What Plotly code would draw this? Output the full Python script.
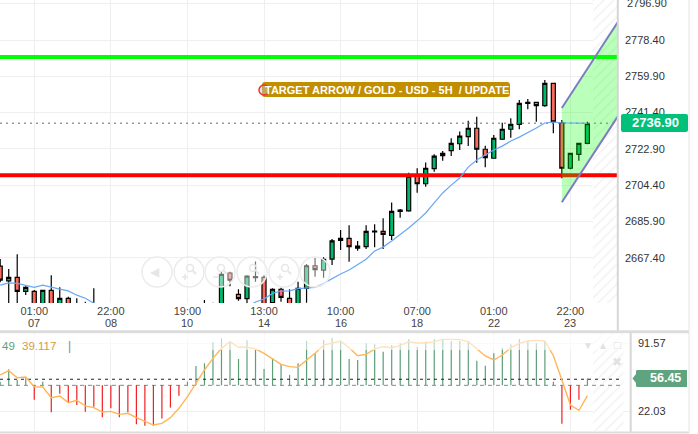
import plotly.graph_objects as go

W, H = 698, 434
FONT = "Liberation Sans"

idx = list(range(70))
opens = [2663.1,2655.6,2657.4,2650.2,2650.2,2641.0,2650.7,2640.0,2646.7,2638.0,
         2641.0,2642.0,2637.0,2633.0,2630.0,2627.0,2629.0,2626.0,2622.0,2626.0,
         2629.0,2627.0,2633.0,2636.0,2638.0,2642.0,2640.0,2659.6,2648.7,2646.5,
         2657.2,2657.4,2644.5,2651.3,2646.7,2642.0,2651.8,2663.3,2661.1,2666.7,
         2676.2,2677.3,2672.3,2673.0,2680.6,2680.8,2678.8,2691.0,2691.3,2709.0,
         2705.1,2712.8,2719.4,2722.0,2725.5,2729.1,2733.4,2722.7,2718.1,2727.8,
         2732.9,2735.4,2746.1,2746.6,2744.9,2756.3,2736.2,2713.0,2720.1,2725.7]
highs = [2666.7,2661.6,2669.1,2652.9,2650.9,2651.0,2658.4,2652.3,2647.5,2646.7,
         2644.9,2651.8,2641.0,2637.0,2634.0,2631.0,2633.0,2630.0,2628.0,2632.0,
         2634.0,2635.0,2639.0,2642.0,2645.8,2644.4,2660.2,2660.2,2651.3,2658.5,
         2665.4,2658.5,2651.8,2652.1,2651.3,2655.1,2664.2,2667.4,2667.6,2676.9,
         2681.5,2684.0,2675.9,2684.0,2684.4,2687.5,2695.6,2692.2,2710.7,2713.0,
         2716.0,2720.1,2721.8,2728.3,2731.8,2737.2,2739.3,2724.5,2730.0,2736.2,
         2738.5,2747.8,2748.3,2746.9,2758.0,2756.6,2737.6,2720.9,2726.0,2736.7]
lows = [2654.9,2643.2,2640.0,2648.4,2636.0,2638.0,2636.0,2637.0,2636.0,2636.0,
        2636.0,2634.0,2630.0,2628.0,2625.0,2623.0,2624.0,2620.0,2619.0,2622.0,
        2625.0,2624.0,2630.0,2633.0,2635.0,2636.0,2638.0,2652.9,2645.5,2641.0,
        2655.1,2640.0,2643.8,2644.9,2640.0,2640.0,2644.4,2657.7,2657.2,2663.7,
        2671.3,2665.3,2671.0,2671.8,2672.7,2671.8,2676.4,2687.8,2690.8,2700.5,
        2703.6,2711.2,2716.8,2719.2,2722.3,2724.3,2715.8,2713.5,2718.1,2727.4,
        2728.6,2732.9,2743.1,2736.7,2744.4,2730.8,2707.9,2712.5,2716.8,2725.2]
closes = [2656.0,2657.4,2650.2,2652.3,2640.0,2650.7,2640.0,2646.7,2639.0,2642.0,
          2637.0,2636.0,2633.0,2630.0,2627.0,2629.0,2626.0,2622.0,2626.0,2629.0,
          2627.0,2633.0,2636.0,2640.0,2642.0,2640.0,2658.9,2655.9,2646.5,2658.0,
          2657.7,2643.0,2651.3,2647.2,2642.0,2651.8,2663.3,2661.3,2666.6,2676.0,
          2677.3,2673.0,2673.3,2680.8,2681.0,2679.3,2691.0,2691.7,2709.0,2705.1,
          2713.0,2719.2,2720.6,2725.7,2729.4,2733.4,2722.7,2718.4,2728.3,2732.9,
          2735.4,2746.1,2746.6,2744.9,2756.3,2736.7,2713.0,2720.6,2725.7,2735.7]
ma_line = [2653.4,2654.6,2654.3,2653.2,2652.3,2653.4,2652.3,2651.4,2650.5,2648.3,
           2646.7,2644.3,2641.7,2638.0,2635.0,2632.0,2630.0,2628.0,2626.0,2625.0,
           2625.0,2626.0,2627.0,2629.0,2631.0,2633.0,2635.0,2637.0,2639.0,2642.2,
           2644.8,2646.3,2649.2,2650.4,2650.5,2651.6,2651.8,2652.3,2654.3,2656.9,
           2659.1,2661.1,2663.7,2666.6,2670.8,2672.8,2675.9,2679.0,2682.5,2686.2,
           2690.2,2695.3,2700.4,2704.4,2708.0,2713.6,2717.2,2719.8,2722.3,2724.3,
           2726.9,2728.9,2731.0,2733.5,2736.1,2736.6,2736.2,2736.1,2736.0,2735.9]
hist_tops = [52.0,64.7,53.8,55.5,33.6,52.0,20.7,39.8,30.9,28.2,
             21.4,26.5,15.6,24.8,15.6,20.7,8.4,7.0,7.0,14.5,
             25.5,37.7,52.0,68.1,70.8,92.3,96.4,93.6,75.2,94.3,
             84.4,65.0,75.9,69.8,58.9,70.8,93.6,81.0,94.7,97.0,
             93.6,75.2,74.2,91.2,90.2,82.7,89.5,91.2,95.7,87.8,
             93.0,95.7,95.7,93.6,93.6,93.6,73.5,68.4,81.0,86.8,
             90.2,95.7,93.6,91.2,93.6,52.0,9.1,23.4,33.6,55.5]
signal_line = [58.9,63.3,56.1,56.8,46.9,46.6,35.7,37.4,30.6,33.0,
               27.2,25.5,21.0,21.7,18.6,19.7,15.2,11.8,7.7,9.4,
               15.2,24.8,36.7,50.3,64.0,75.9,86.1,93.0,87.2,87.2,
               85.5,81.0,75.2,69.8,67.4,66.7,74.2,81.0,89.5,91.2,
               93.6,86.8,78.6,80.0,85.5,87.8,86.8,88.9,93.0,91.6,
               91.6,93.0,95.3,95.3,95.0,93.0,85.5,78.3,74.2,79.3,
               86.8,91.2,93.6,94.3,93.6,78.6,53.8,28.2,22.7,37.7]

time_ticks = [4, 13, 22, 31, 40, 49, 58, 67]
time_labels = ["01:00", "22:00", "19:00", "13:00", "10:00", "07:00", "01:00", "22:00"]
day_labels = ["07", "08", "10", "14", "16", "18", "22", "23"]
price_ticks = [2667.40, 2685.90, 2704.40, 2722.90, 2741.40, 2759.90, 2778.40, 2796.90]
osc_ticks = [22.03, 91.57]

resistance = 2769.7
support = 2709.5
last_price = 2736.9
last_guide = 2736.0
osc_last = 56.45
osc_mid = 54.5
osc_base = 48.3
chan_x = [66, 72.6]
chan_upper = [2743.7, 2787.7]
chan_lower = [2695.7, 2739.6]

XMIN, XMAX, XMAX2 = -0.024, 72.6, 74.0
YMIN, YMAX = 2644.3, 2798.8
Y2MIN, Y2MAX = 1.6, 101.8

def px(x): return x / W
def py(y): return 1 - y / H

def rrect(x0, y0, x1, y1, r):
    a, b, c, d = px(x0), px(x1), py(y0), py(y1)
    rx, ry = r / W, r / H
    return (f"M{a+rx},{c} L{b-rx},{c} Q{b},{c} {b},{c-ry} L{b},{d+ry} Q{b},{d} {b-rx},{d} "
            f"L{a+rx},{d} Q{a},{d} {a},{d+ry} L{a},{c-ry} Q{a},{c} {a+rx},{c} Z")

fig = go.Figure()

# hatched right-hand zones
hatch = dict(shape="/", size=7, solidity=0.2, fgcolor="#e4e4e4", bgcolor="white")
fig.add_trace(go.Bar(x=[71.2], y=[YMAX - YMIN], base=[YMIN], width=[3.08],
                     marker=dict(color="white", line_width=0, pattern=hatch), hoverinfo="skip"))
fig.add_trace(go.Bar(x=[71.45], y=[Y2MAX - Y2MIN], base=[Y2MIN], width=[3.58],
                     marker=dict(color="white", line_width=0, pattern=hatch),
                     xaxis="x2", yaxis="y2", hoverinfo="skip"))

fig.add_trace(go.Candlestick(
    x=idx, open=opens, high=highs, low=lows, close=closes, whiskerwidth=0,
    increasing=dict(line=dict(color="#000000", width=1.2), fillcolor="#00b86b"),
    decreasing=dict(line=dict(color="#000000", width=1.2), fillcolor="#fb6a5e"),
))

for val, col in ((resistance, "#00ff00"), (support, "#ff0000")):
    fig.add_trace(go.Scatter(x=[XMIN, XMAX], y=[val, val], mode="lines",
                             line=dict(color=col, width=4), hoverinfo="skip"))
fig.add_trace(go.Scatter(x=[XMIN, XMAX], y=[last_guide, last_guide], mode="lines",
                         line=dict(color="#666666", width=1, dash="2px,4px"), hoverinfo="skip"))
fig.add_trace(go.Scatter(x=chan_x + chan_x[::-1], y=chan_upper + chan_lower[::-1], mode="none",
                         fill="toself", fillcolor="rgba(0,255,0,0.27)", hoverinfo="skip"))
for vals in (chan_upper, chan_lower):
    fig.add_trace(go.Scatter(x=chan_x, y=vals, mode="lines",
                             line=dict(color="#7c7cc0", width=2), hoverinfo="skip"))
fig.add_trace(go.Scatter(x=idx, y=ma_line, mode="lines",
                         line=dict(color="#6aa6f8", width=1.2), hoverinfo="skip"))

# oscillator
fig.add_trace(go.Scatter(x=[XMIN, 72.9], y=[osc_base, osc_base], mode="lines",
                         line=dict(color="#8a8a8a", width=1, dash="4px,4px"),
                         xaxis="x2", yaxis="y2", hoverinfo="skip"))
def stems(keep):
    xs, ys = [], []
    for i, t in zip(idx, hist_tops):
        if keep(t):
            xs += [i, i, None]
            ys += [osc_base, t, None]
    return xs, ys
for keep, col in ((lambda t: t >= osc_base, "#5b9e78"), (lambda t: t < osc_base, "#ee2020")):
    sx, sy = stems(keep)
    fig.add_trace(go.Scatter(x=sx, y=sy, mode="lines", line=dict(color=col, width=1.2),
                             xaxis="x2", yaxis="y2", hoverinfo="skip"))
fig.add_trace(go.Scatter(x=[XMIN, 72.9], y=[osc_mid, osc_mid], mode="lines",
                         line=dict(color="#222222", width=1, dash="3px,4px"),
                         xaxis="x2", yaxis="y2", hoverinfo="skip"))
fig.add_trace(go.Scatter(x=idx, y=signal_line, mode="lines",
                         line=dict(color="#ffb657", width=1.4), xaxis="x2", yaxis="y2", hoverinfo="skip"))

shapes = []
def line(x0, y0, x1, y1, col, w):
    shapes.append(dict(type="line", xref="paper", yref="paper", x0=px(x0), y0=py(y0), x1=px(x1), y1=py(y1),
                       line=dict(color=col, width=w), layer="above"))
def circle(cx, cy, r, fill, col, w):
    shapes.append(dict(type="circle", xref="paper", yref="paper", x0=px(cx - r), x1=px(cx + r),
                       y0=py(cy + r), y1=py(cy - r), fillcolor=fill, line=dict(color=col, width=w), layer="above"))

# frame
line(617.8, 0, 617.8, 331, "#d6d6d6", 2)
line(630.7, 331, 630.7, 432, "#d6d6d6", 2)
line(0, 331.7, 689, 331.7, "#dcdcdc", 3)
line(0, 432.5, 689, 432.5, "#dcdcdc", 2)
line(689, 0, 689, 433, "#e4e4e4", 1)

# faded top band of the oscillator
shapes.append(dict(type="rect", xref="paper", yref="paper", x0=0, x1=px(629), y0=py(350), y1=py(333.5),
                   fillcolor="rgba(255,255,255,0.6)", line_width=0, layer="above"))

# ghost toolbar
for cx in (157, 189, 220, 252, 284, 315):
    circle(cx, 272, 15, "rgba(255,255,255,0.45)", "#ececec", 1.5)
for cx in (189, 220, 252, 284):
    circle(cx + 1, 268, 3.5, "rgba(255,255,255,0)", "#e6e6e6", 1.5)
    line(cx + 4, 271, cx + 7, 274, "#e6e6e6", 2)
for cx in (189, 284):
    line(cx - 7, 277, cx - 1, 277, "#e6e6e6", 1.5)
    line(cx - 4, 274, cx - 4, 280, "#e6e6e6", 1.5)
line(213, 277, 219, 277, "#e6e6e6", 1.5)

# callout pills
shapes.append(dict(type="path", xref="paper", yref="paper", path=rrect(262, 82, 510, 97, 3),
                   fillcolor="#c18e00", line_width=0, layer="above"))
circle(264, 90, 5, "rgba(200,200,200,0.45)", "#f03030", 1.5)
shapes.append(dict(type="path", xref="paper", yref="paper", path=rrect(621, 114, 688, 132, 2),
                   fillcolor="#00c07a", line_width=0, layer="above"))
shapes.append(dict(type="path", xref="paper", yref="paper",
                   path=(f"M{px(632.5)},{py(378.5)} L{px(636)},{py(374)} L{px(636)},{py(371)} Q{px(636)},{py(370)} {px(638)},{py(370)} "
                         f"L{px(687)},{py(370)} L{px(687)},{py(387)} L{px(638)},{py(387)} Q{px(636)},{py(387)} {px(636)},{py(386)} "
                         f"L{px(636)},{py(383)} Z"),
                   fillcolor="#5fa47e", line_width=0, layer="above"))

anns = []
def text(s, x, y, size=11, color="#444444", anchor="center", xref="paper", bold=False):
    anns.append(dict(text=f"<b>{s}</b>" if bold else s, x=px(x) if xref == "paper" else x, y=py(y),
                     xref=xref, yref="paper", xanchor=anchor, yanchor="middle", showarrow=False,
                     font=dict(family=FONT, size=size, color=color)))

for tick, day in zip(time_ticks, day_labels):
    text(day, tick, 322.5, xref="x")
text("TARGET ARROW / GOLD - USD - 5H \u00a0/ UPDATE", 387.5, 89.5, size=11, color="white", bold=True)
text(f"{last_price:.2f}", 655, 122.5, size=13, color="white", bold=True)
text(f"{osc_last:.2f}", 683, 378, size=12.5, color="white", anchor="right", bold=True)
text("49", 0, 346, size=11.5, color="#5f9f7a", anchor="left")
text("39.117", 20, 346, size=11.5, color="#d29a48", anchor="left")
text("|", 66, 345.5, size=12, color="#888888", anchor="left")
text("◀", 155, 272, size=12, color="#e6e6e6")
text("▼", 588, 345, size=10, color="#e2e2e2")
text("▲", 603, 345, size=10, color="#e2e2e2")
text("□", 617, 345, size=12, color="#e2e2e2")
text("✖", 617, 362, size=12, color="#e2e2e2")
text(f"{price_ticks[-1]:.2f}", 624.5, 3.5, size=11, color="#333333", anchor="left")

grid = "#efefef"
fig.update_layout(
    width=W, height=H, margin=dict(l=0, r=0, t=0, b=0), autosize=False,
    paper_bgcolor="white", plot_bgcolor="white", showlegend=False,
    barmode="overlay", boxgap=0.32, shapes=shapes, annotations=anns,
    font=dict(family=FONT, size=11, color="#444444"),
    xaxis=dict(domain=[0, 618 / W], range=[XMIN, XMAX], anchor="y", tickmode="array",
               tickvals=time_ticks, ticktext=time_labels, gridcolor=grid, gridwidth=1,
               ticks="", zeroline=False, showline=False, rangeslider=dict(visible=False),
               tickfont=dict(size=11, color="#444444")),
    yaxis=dict(domain=[py(303), 1], range=[YMIN, YMAX], side="right", anchor="x", tickmode="array",
               tickvals=price_ticks, ticktext=[f"{v:.2f}" for v in price_ticks[:-1]] + [""], gridcolor=grid,
               ticks="", zeroline=False, showline=False, ticklabelstandoff=6,
               tickfont=dict(size=11, color="#333333")),
    xaxis2=dict(domain=[0, 630 / W], range=[XMIN, XMAX2], anchor="y2", tickmode="array",
                tickvals=time_ticks, showticklabels=False, gridcolor=grid, ticks="",
                zeroline=False, showline=False),
    yaxis2=dict(domain=[py(431), py(333)], range=[Y2MIN, Y2MAX], side="right", anchor="x2", tickmode="array",
                tickvals=osc_ticks, ticktext=[f"{v:.2f}" for v in osc_ticks], gridcolor=grid,
                ticks="", zeroline=False, showline=False, ticklabelstandoff=7,
                tickfont=dict(size=11, color="#333333")),
)

fig.write_html("out.html", config={"displayModeBar": False},
               post_script="document.body.style.margin='0';document.body.style.overflow='hidden';")
